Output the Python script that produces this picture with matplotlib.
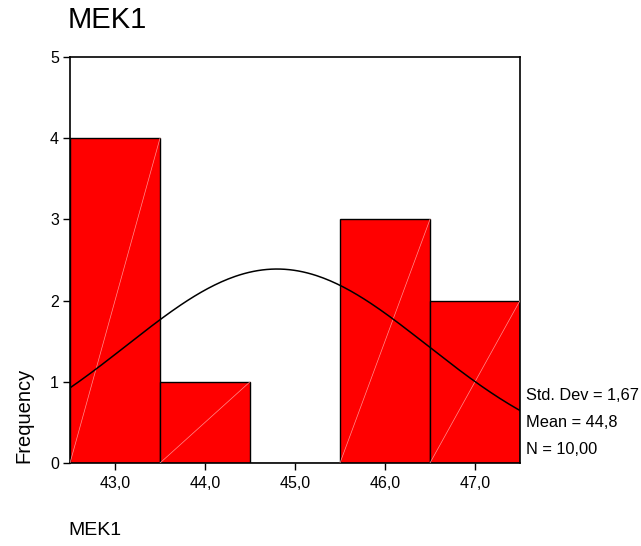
import numpy as np
import matplotlib
matplotlib.use("Agg")
import matplotlib.pyplot as plt

plt.rcParams['font.family'] = ['Liberation Sans', 'DejaVu Sans']

# histogram data
bin_centers = [43.0, 44.0, 45.0, 46.0, 47.0]
counts = [4, 1, 0, 3, 2]
tick_labels = ["43,0", "44,0", "45,0", "46,0", "47,0"]
std_dev = 1.67
mean = 44.8
n = 10
bin_width = 1.0

fig = plt.figure(figsize=(6.41, 5.46), dpi=100)
ax = fig.add_axes([0.1092, 0.152, 0.702, 0.7436])

ax.bar(bin_centers, counts, width=bin_width, color="#ff0000",
       edgecolor="black", linewidth=1.0, zorder=2)

# faint diagonal seams like in the original rendering
for c, h in zip(bin_centers, counts):
    if h > 0:
        ax.plot([c - bin_width / 2, c + bin_width / 2], [0, h],
                color="#ff9090", linewidth=0.5, zorder=3)

# normal curve from the stated statistics
xs = np.linspace(42.5, 47.5, 200)
ys = n * bin_width / (std_dev * np.sqrt(2 * np.pi)) * np.exp(-0.5 * ((xs - mean) / std_dev) ** 2)
ax.plot(xs, ys, color="black", linewidth=1.1, zorder=4)

ax.set_xlim(42.5, 47.5)
ax.set_ylim(0, 5)
ax.set_xticks(bin_centers)
ax.set_xticklabels(tick_labels)
ax.set_yticks([0, 1, 2, 3, 4, 5])
ax.tick_params(axis="both", labelsize=11.5, length=5, width=1.0, direction="out")
ax.tick_params(axis="y", pad=3)
ax.tick_params(axis="x", pad=4)
for s in ax.spines.values():
    s.set_linewidth(1.2)

fig.text(0.106, 0.964, "MEK1", fontsize=21, ha="left", va="center")
fig.text(0.106, 0.028, "MEK1", fontsize=14, ha="left", va="center")
fig.text(0.037, 0.24, "Frequency", fontsize=14.5, rotation=90, ha="center", va="center")

stats = ["Std. Dev = %s" % "1,67", "Mean = %s" % "44,8", "N = %s" % "10,00"]
ys_txt = [0.276, 0.227, 0.176]
for t, yy in zip(stats, ys_txt):
    fig.text(0.82, yy, t, fontsize=11.8, ha="left", va="center")

fig.savefig("out.png", dpi=100)
